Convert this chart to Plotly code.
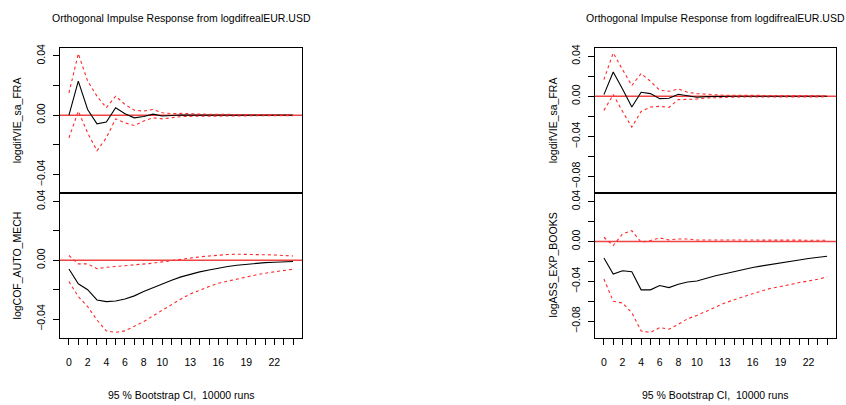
import plotly.graph_objects as go

steps = list(range(25))
x_tick_labels = ["0", "", "2", "", "4", "", "6", "", "8", "", "10", "", "", "13", "", "", "16", "", "", "19", "", "", "22", "", ""]

# Left panel, top: logdifVIE_sa_FRA
l_top_irf = [0.0, 0.023, 0.0038, -0.0059, -0.0047, 0.005, 0.001, -0.0018, -0.0009, 0.0007, -0.0006,
             -0.0002, 0.0001, 0.0, 0.0, 0.0, 0.0, 0.0, 0.0, 0.0, 0.0, 0.0, 0.0, 0.0, 0.0]
l_top_up = [0.015, 0.0415, 0.023, 0.0128, 0.005, 0.0128, 0.0072, 0.0034, 0.0027, 0.0038, 0.0016,
            0.001, 0.0012, 0.0008, 0.0007, 0.0006, 0.0005, 0.0005, 0.0004, 0.0004, 0.0004, 0.0003, 0.0003, 0.0003, 0.0003]
l_top_lo = [-0.0153, 0.0027, -0.012, -0.024, -0.0153, -0.0025, -0.0052, -0.007, -0.004, -0.0018, -0.0025,
            -0.0015, -0.001, -0.0008, -0.0007, -0.0006, -0.0005, -0.0005, -0.0004, -0.0004, -0.0004, -0.0003, -0.0003, -0.0003, -0.0003]

# Left panel, bottom: logCOF_AUTO_MECH
l_bot_irf = [-0.0059, -0.016, -0.020, -0.027, -0.0281, -0.0277, -0.0263, -0.0242, -0.0213, -0.0186, -0.0161,
             -0.0136, -0.0113, -0.0095, -0.0079, -0.0066, -0.0052, -0.0043, -0.0034, -0.0027, -0.002, -0.0016, -0.0014, -0.0011, -0.0009]
l_bot_up = [0.0032, -0.0025, -0.0025, -0.0057, -0.0048, -0.0043, -0.0039, -0.0034, -0.0027, -0.002, -0.0011,
            -0.0002, 0.0007, 0.0016, 0.0023, 0.0029, 0.0036, 0.0039, 0.0041, 0.0041, 0.0041, 0.0039, 0.0036, 0.0032, 0.0029]
l_bot_lo = [-0.0145, -0.0247, -0.0315, -0.0406, -0.048, -0.049, -0.048, -0.0451, -0.0417, -0.0378, -0.0338,
            -0.0297, -0.0263, -0.0229, -0.0202, -0.0179, -0.0156, -0.0141, -0.0125, -0.0111, -0.010, -0.0088, -0.0079, -0.007, -0.0061]

# Right panel, top: logdifVIE_sa_FRA
r_top_irf = [0.0017, 0.0243, 0.0073, -0.0107, 0.004, 0.0027, -0.0023, -0.002, 0.002, 0.0003, -0.001,
             -0.0003, 0.0, 0.0, 0.0, 0.0, 0.0, 0.0, 0.0, 0.0, 0.0, 0.0, 0.0, 0.0, 0.0]
r_top_up = [0.0167, 0.0433, 0.0267, 0.0107, 0.0227, 0.015, 0.006, 0.005, 0.0073, 0.004, 0.0027,
            0.002, 0.0012, 0.001, 0.001, 0.0009, 0.0008, 0.0008, 0.0007, 0.0007, 0.0007, 0.0006, 0.0006, 0.0006, 0.0006]
r_top_lo = [-0.014, 0.0017, -0.015, -0.0307, -0.015, -0.0107, -0.010, -0.011, -0.0033, -0.0033, -0.0027,
            -0.0017, -0.0012, -0.001, -0.0008, -0.0007, -0.0006, -0.0006, -0.0005, -0.0005, -0.0005, -0.0005, -0.0005, -0.0005, -0.0005]

# Right panel, bottom: logASS_EXP_BOOKS
r_bot_irf = [-0.0165, -0.0326, -0.0293, -0.0303, -0.0485, -0.0485, -0.0442, -0.0462, -0.0429, -0.0406, -0.0396,
             -0.0369, -0.0343, -0.0323, -0.030, -0.028, -0.026, -0.0244, -0.0228, -0.0211, -0.0198, -0.0185, -0.0171, -0.0162, -0.0148]
r_bot_up = [0.0043, -0.004, 0.0076, 0.0109, -0.0007, 0.001, 0.0036, 0.0016, 0.0026, 0.0026, 0.0016,
            0.0016, 0.0016, 0.0015, 0.0015, 0.0015, 0.0015, 0.0014, 0.0014, 0.0014, 0.0014, 0.0014, 0.0013, 0.0013, 0.0013]
r_bot_lo = [-0.0376, -0.060, -0.0617, -0.0715, -0.0897, -0.0913, -0.0864, -0.088, -0.0831, -0.0775, -0.0742,
            -0.0699, -0.0656, -0.0617, -0.0584, -0.0551, -0.0524, -0.0495, -0.0468, -0.0452, -0.0429, -0.0412, -0.0396, -0.0379, -0.0353]

title_text = "Orthogonal Impulse Response from logdifrealEUR.USD"
footer_text = "95 % Bootstrap CI,  10000 runs"
left_names = ["logdifVIE_sa_FRA", "logCOF_AUTO_MECH"]
right_names = ["logdifVIE_sa_FRA", "logASS_EXP_BOOKS"]

left_yvals = [0.04, 0.02, 0.0, -0.02, -0.04]
left_ytext = ["0.04", "", "0.00", "", "\u22120.04"]
right_yvals = [0.04, 0.02, 0.0, -0.02, -0.04, -0.06, -0.08]
right_ytext = ["0.04", "", "0.00", "", "\u22120.04", "", "\u22120.08"]

W, H = 846, 405
FONT = "Liberation Sans, Arial, Helvetica, sans-serif"

# pixel geometry of plot boxes
LX = (60, 302)
RX = (595, 836)
TOPY = (44, 191)
BOTY = (191, 337)

def xd(px):
    return [px[0] / W, px[1] / W]

def yd(py):
    return [(H - py[1]) / H, (H - py[0]) / H]

fig = go.Figure()

panels = [
    (1, LX, TOPY, l_top_irf, l_top_up, l_top_lo, [-0.0526, 0.0456], left_yvals, left_ytext, False),
    (2, LX, BOTY, l_bot_irf, l_bot_up, l_bot_lo, [-0.0526, 0.0456], left_yvals, left_ytext, True),
    (3, RX, TOPY, r_top_irf, r_top_up, r_top_lo, [-0.0965, 0.0486], right_yvals, right_ytext, False),
    (4, RX, BOTY, r_bot_irf, r_bot_up, r_bot_lo, [-0.0965, 0.0486], right_yvals, right_ytext, True),
]

layout = dict(
    width=W, height=H, margin=dict(l=0, r=0, t=0, b=0),
    paper_bgcolor="white", plot_bgcolor="white", showlegend=False,
    font=dict(family=FONT, size=10, color="black"),
)

shapes = []
for idx, xp, yp, irf, up, lo, yr, yv, yt, bottom in panels:
    xa = "x" if idx == 1 else f"x{idx}"
    ya = "y" if idx == 1 else f"y{idx}"
    shapes.append(dict(type="line", xref=f"{xa} domain", yref=ya, x0=0, x1=1, y0=0, y1=0,
                       line=dict(color="#f04444", width=1.5), layer="below"))
    fig.add_trace(go.Scatter(x=steps, y=irf, mode="lines", xaxis=xa, yaxis=ya,
                             line=dict(color="black", width=1.1)))
    for band in (up, lo):
        fig.add_trace(go.Scatter(x=steps, y=band, mode="lines", xaxis=xa, yaxis=ya,
                                 line=dict(color="#ff2a2a", width=1.1, dash="3px,3px")))
    xkey = "xaxis" if idx == 1 else f"xaxis{idx}"
    ykey = "yaxis" if idx == 1 else f"yaxis{idx}"
    layout[xkey] = dict(
        domain=xd(xp), anchor=ya, range=[-0.96, 24.96],
        showgrid=False, zeroline=False, showline=True, mirror=True,
        linecolor="black", linewidth=1,
        tickmode="array", tickvals=steps, ticktext=x_tick_labels,
        ticks="outside" if bottom else "", ticklen=6, tickcolor="black",
        showticklabels=bottom, tickfont=dict(size=10.5, family=FONT),
        ticklabelstandoff=9,
    )
    layout[ykey] = dict(
        domain=yd(yp), anchor=xa, range=yr,
        showgrid=False, zeroline=False, showline=True, mirror=True,
        linecolor="black", linewidth=1,
        tickmode="array", tickvals=yv, ticktext=yt,
        ticks="outside", ticklen=6, tickcolor="black", tickangle=-90,
        tickfont=dict(size=10.5, family=FONT), ticklabelstandoff=4,
    )

annotations = []
for xp, names, ytitle_x in ((LX, left_names, 17), (RX, right_names, 553)):
    cx = (xp[0] + xp[1]) / 2 / W
    annotations.append(dict(text=title_text, x=cx, y=(H - 14) / H, xref="paper", yref="paper",
                            showarrow=False, xanchor="center", yanchor="middle",
                            font=dict(size=10.5, family=FONT)))
    annotations.append(dict(text=footer_text, x=cx, y=(H - 395) / H, xref="paper", yref="paper",
                            showarrow=False, xanchor="center", yanchor="middle",
                            font=dict(size=10.5, family=FONT)))
    for name, yp in zip(names, (TOPY, BOTY)):
        annotations.append(dict(text=name, x=ytitle_x / W, y=(H - (yp[0] + yp[1]) / 2) / H,
                                xref="paper", yref="paper", showarrow=False, textangle=-90,
                                xanchor="center", yanchor="middle",
                                font=dict(size=10.5, family=FONT)))

layout["shapes"] = shapes
layout["annotations"] = annotations
fig.update_layout(**layout)
fig.write_html("out.html", config={"displayModeBar": False, "staticPlot": True},
               post_script="document.body.style.margin='0';document.body.style.overflow='hidden';")
